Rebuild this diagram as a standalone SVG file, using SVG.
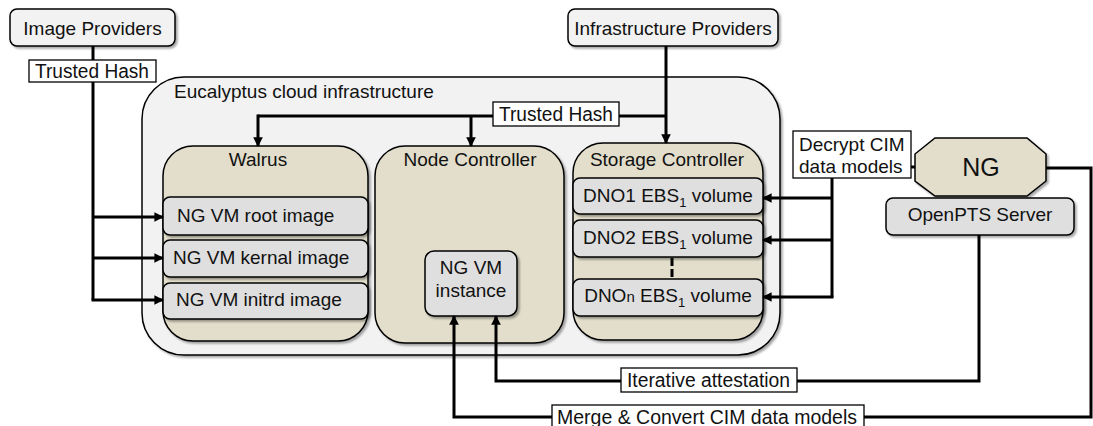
<svg xmlns="http://www.w3.org/2000/svg" width="1093" height="426" viewBox="0 0 1093 426">
<defs>
<filter id="sh" x="-10%" y="-10%" width="130%" height="140%">
<feGaussianBlur in="SourceAlpha" stdDeviation="1.2"/>
<feOffset dx="1.5" dy="2" result="b"/>
<feComponentTransfer><feFuncA type="linear" slope="0.35"/></feComponentTransfer>
<feMerge><feMergeNode/><feMergeNode in="SourceGraphic"/></feMerge>
</filter>
<marker id="ah" viewBox="0 0 10 10" refX="9" refY="5" markerWidth="3.2" markerHeight="3.2" orient="auto" markerUnits="strokeWidth">
<path d="M0,0 L10,5 L0,10 z" fill="#000"/>
</marker>
</defs>
<style>
text{font-family:"Liberation Sans",Arial,sans-serif;font-size:19px;fill:#111}
.c{text-anchor:middle}
.box{stroke:#000;stroke-width:1.5}
.grey{fill:#f2f2f2}
.tan{fill:#e2decb}
.inner{fill:#dfdfdf}
.lbl{fill:#fff;stroke:#000;stroke-width:1.3}
.ln{fill:none;stroke:#000;stroke-width:3}
.arr{fill:none;stroke:#000;stroke-width:3;marker-end:url(#ah)}
</style>
<rect width="1093" height="426" fill="#fff"/>

<g id="eucalyptus">
<rect class="box grey" x="142" y="77" width="638" height="278" rx="42" filter="url(#sh)"/>
<text x="174" y="98">Eucalyptus cloud infrastructure</text>
</g>

<g id="walrus">
<rect class="box tan" x="163" y="146" width="205" height="195" rx="30" filter="url(#sh)"/>
<text class="c" x="258" y="166">Walrus</text>
</g>
<g id="node-controller">
<rect class="box tan" x="375" y="146" width="189" height="197" rx="30" filter="url(#sh)"/>
<text class="c" x="470" y="166">Node Controller</text>
</g>
<g id="storage-controller">
<rect class="box tan" x="573" y="143" width="190" height="197" rx="30" filter="url(#sh)"/>
<text class="c" x="667" y="166">Storage Controller</text>
</g>

<g id="image-providers">
<rect class="box grey" x="10" y="9" width="165" height="37" rx="7" filter="url(#sh)"/>
<text class="c" x="92.5" y="35">Image Providers</text>
</g>
<g id="infrastructure-providers">
<rect class="box grey" x="568" y="9" width="210" height="37" rx="7" filter="url(#sh)"/>
<text class="c" x="673" y="35">Infrastructure Providers</text>
</g>

<g id="root-image">
<rect class="box inner" x="163" y="197" width="205" height="38" rx="7" filter="url(#sh)"/>
<text x="177" y="222">NG VM root image</text>
</g>
<g id="kernal-image">
<rect class="box inner" x="163" y="240" width="205" height="37" rx="7" filter="url(#sh)"/>
<text x="173" y="264">NG VM kernal image</text>
</g>
<g id="initrd-image">
<rect class="box inner" x="163" y="283" width="205" height="36" rx="7" filter="url(#sh)"/>
<text x="176" y="306">NG VM initrd image</text>
</g>

<g id="vm-instance">
<rect class="box inner" x="425" y="251" width="92" height="65" rx="9" filter="url(#sh)"/>
<text class="c" x="471" y="274">NG VM</text>
<text class="c" x="471" y="297">instance</text>
</g>

<g id="dno1">
<rect class="box inner" x="573" y="178" width="190" height="36" rx="7" filter="url(#sh)"/>
<text class="c" x="668" y="202">DNO1 EBS<tspan font-size="13" dy="5">1</tspan><tspan dy="-5"> volume</tspan></text>
</g>
<g id="dno2">
<rect class="box inner" x="573" y="220" width="190" height="37" rx="7" filter="url(#sh)"/>
<text class="c" x="668" y="244">DNO2 EBS<tspan font-size="13" dy="5">1</tspan><tspan dy="-5"> volume</tspan></text>
</g>
<g id="dnon">
<rect class="box inner" x="573" y="279" width="190" height="37" rx="7" filter="url(#sh)"/>
<text class="c" x="668" y="302">DNO<tspan font-size="15">n</tspan> EBS<tspan font-size="13" dy="5">1</tspan><tspan dy="-5"> volume</tspan></text>
</g>

<g id="ng">
<polygon class="box tan" points="935,138 1027,138 1046,154 1046,181 1027,196 935,196 915,181 915,154" filter="url(#sh)"/>
<text class="c" x="981" y="176" style="font-size:25px">NG</text>
</g>
<g id="openpts">
<rect class="box inner" x="886" y="198" width="188" height="37" rx="7" filter="url(#sh)"/>
<text class="c" x="980" y="221">OpenPTS Server</text>
</g>

<g id="connectors">
<path class="ln" d="M93,46 V300"/>
<path class="arr" d="M93,217 H163"/>
<path class="arr" d="M93,258 H163"/>
<path class="arr" d="M91.5,300 H163"/>
<path class="arr" d="M666,46 V143"/>
<path class="ln" d="M666,116 H258"/>
<path class="arr" d="M258,114.5 V146"/>
<path class="arr" d="M471,116 V146"/>
<path class="ln" d="M832,178 V297"/>
<path class="arr" d="M832,198 H763"/>
<path class="arr" d="M832,240 H763"/>
<path class="arr" d="M833.5,297 H763"/>
<path class="ln" d="M911,167 H915" stroke-width="2"/>
<path class="arr" d="M1046,168 H1091 V417 H454 V316"/>
<path class="arr" d="M979,235 V381 H496 V316"/>
<path d="M672,258 V277" stroke="#000" stroke-width="3" stroke-dasharray="8,3"/>
<rect class="lbl" x="29" y="60" width="127" height="22"/>
<text x="35" y="78" style="font-size:20px" textLength="114" lengthAdjust="spacingAndGlyphs">Trusted Hash</text>
<rect class="lbl" x="493" y="102" width="126" height="24"/>
<text x="499" y="121" style="font-size:20px" textLength="114" lengthAdjust="spacingAndGlyphs">Trusted Hash</text>
<rect class="lbl" x="793" y="131" width="118" height="47"/>
<text x="799" y="151">Decrypt CIM</text>
<text x="799" y="173">data models</text>
<rect class="lbl" x="621" y="368" width="176" height="24"/>
<text x="627" y="387" style="font-size:20px" textLength="163" lengthAdjust="spacingAndGlyphs">Iterative attestation</text>
<rect class="lbl" x="552" y="405" width="312" height="25"/>
<text x="557" y="424" style="font-size:20px" textLength="300" lengthAdjust="spacingAndGlyphs">Merge &amp; Convert CIM data models</text>
</g>
</svg>
